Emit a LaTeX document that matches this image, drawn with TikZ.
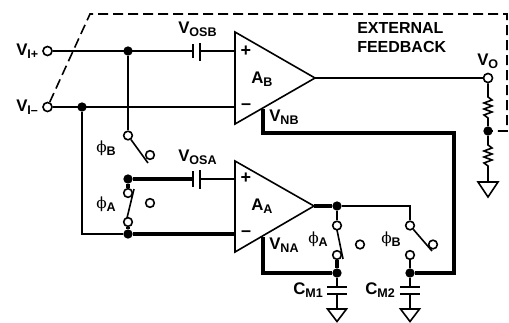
\documentclass[tikz,border=0pt]{standalone}
\usepackage{fontspec}
\setmainfont{Liberation Sans}[BoldFont={Liberation Sans Bold}]
\newfontfamily\phifont{DejaVu Serif}
\newcommand{\vlab}[2]{{\fontsize{12.6pt}{12.6pt}\selectfont\bfseries #1\raisebox{-2.6pt}{\fontsize{9.4pt}{9.4pt}\selectfont #2}}}
\newcommand{\philab}[1]{{\fontsize{11.5pt}{11.5pt}\selectfont\phifont\mdseries ϕ\rmfamily\bfseries\raisebox{-2.6pt}{\fontsize{9.4pt}{9.4pt}\selectfont #1}}}
\tikzset{
  wire/.style={line width=1.2pt},
  thick wire/.style={line width=2.4pt},
  term/.style={circle,draw,fill=white,line width=1.2pt,minimum size=6.8pt,inner sep=0pt},
  swt/.style={term,minimum size=6.5pt},
  dotn/.style={circle,fill=black,minimum size=7pt,inner sep=0pt},
  amp/.style={line width=1.2pt,line join=miter},
  fb/.style={line width=1.2pt,dash pattern=on 7.5pt off 3.75pt},
  lab/.style={inner sep=0pt,anchor=base west},
  sign/.style={inner sep=0pt,font=\fontsize{13.5pt}{13.5pt}\selectfont\bfseries},
  bigtxt/.style={lab,font=\fontsize{12pt}{12pt}\selectfont\bfseries}
}
\begin{document}
\begin{tikzpicture}[x=0.75pt,y=-0.75pt]
\useasboundingbox (0,0) rectangle (509,322);
% coordinates
\coordinate (bp) at (235,51);
\coordinate (bm) at (235,107);
\coordinate (bt) at (235,32);
\coordinate (bb) at (235,124);
\coordinate (bo) at (315,78);
\coordinate (ap) at (235,179);
\coordinate (am) at (235,234);
\coordinate (at) at (235,161);
\coordinate (ab) at (235,252);
\coordinate (ao) at (314,206);
\coordinate (fb1) at (90,14);
\coordinate (fb2) at (507,14);
\coordinate (fb3) at (507,131);
\coordinate (vnbtop) at (263,109);
\coordinate (vnb1) at (263,133);
\coordinate (vnb2) at (454,133);
\coordinate (vnb3) at (454,273);
\coordinate (vnatop) at (263,238);
\coordinate (vna1) at (263,273);
\coordinate (c1a) at (193,51);
\coordinate (c1b) at (200,51);
\coordinate (c2a) at (193,179);
\coordinate (c2b) at (200,179);
\coordinate (sa1) at (134,189);
\coordinate (sa2) at (127,218);
\coordinate (sbt) at (148,163);
\coordinate (sb2) at (432,251);
\coordinate (sc1) at (337,230);
\coordinate (sc2) at (343,259);
\coordinate (r1t) at (488,97);
\coordinate (r1b) at (488,118);
\coordinate (r2t) at (488,145);
\coordinate (r2b) at (488,166);
\coordinate (g0) at (488,182);
\coordinate (cm1a) at (337,287);
\coordinate (cm1b) at (337,294);
\coordinate (g1) at (337,309);
\coordinate (cm2a) at (410,287);
\coordinate (cm2b) at (410,294);
\coordinate (g2) at (410,309);
% dashed feedback
\node[term] (vip) at (47.5,51) {};
\node[term] (vim) at (47.5,107) {};
\node[term] (vo) at (488,78) {};
\draw[fb] (vim) -- (fb1) -- (fb2) -- (fb3) -- (488,131);
% nodes
\node[dotn] (n1) at (128,51) {};
\node[dotn] (n2) at (82,107) {};
\node[dotn] (n3) at (128,179) {};
\node[dotn] (n4) at (128,234) {};
\node[dotn] (n5) at (337,206) {};
\node[dotn] (n6) at (337,273) {};
\node[dotn] (n7) at (410,273) {};
\node[dotn] (n8) at (488,131) {};
\node[swt] (s1) at (128,135.5) {};
\node[swt] (s3) at (128,193) {};
\node[swt] (s4) at (128,222) {};
\node[swt] (s5) at (150,203) {};
\node[swt] (s6) at (337,225.5) {};
\node[swt] (s8) at (360,244.5) {};
\node[swt] (s9) at (410,225.5) {};
\node[swt] (s11) at (410,255) {};
% thin wires
\draw[wire] (vip) -- (c1a);
\draw[wire] (c1b) -- (bp);
\draw[wire] (vim) -- (bm);
\draw[wire] (n1) -- (s1);
\draw[wire] (s1) -- (sbt);
\draw[wire] (n2) |- (n4);
\draw[wire] (c2b) -- (ap);
\draw[wire] (sa1) -- (sa2);
\draw[wire] (bo) -- (vo);
\draw[wire] (n5) -| (s9);
\draw[wire] (n5) -- (s6);
\draw[wire] (s9) -- (sb2);
\draw[wire] (s11) -- (n7);
% thick wires
\draw[thick wire] (n3) -- (c2a);
\draw[thick wire] (n4) -- (am);
\draw[thick wire] (n3) -- (s3);
\draw[thick wire] (s4) -- (n4);
\draw[thick wire] (ao) -- (n5);
\draw[thick wire,line join=miter] (vnbtop) -- (vnb1) -- (vnb2) -- (vnb3) -- (n7);
\draw[thick wire,line join=miter] (vnatop) -- (vna1) -- (n6);
% switch contacts lying over the arms
\node[swt] (s2) at (150,155) {};
\node[swt] (s10) at (433,244.5) {};
\node[swt] (s7) at (337,255) {};
\draw[thick wire] (s7) -- (n6);
\draw[wire] (sc1) -- (sc2);
% capacitors
\draw[wire] (193,44) -- (193,58);
\draw[line width=1.6pt] (200,43) -- (200,61);
\draw[wire] (193,171) -- (193,187);
\draw[line width=1.6pt] (200,170) -- (200,189);
\draw[line width=1.6pt] (327,287) -- (347,287);
\draw[line width=1.6pt] (327,294) -- (347,294);
\draw[line width=1.6pt] (400,287) -- (420,287);
\draw[line width=1.6pt] (400,294) -- (420,294);
\draw[wire] (n6) -- (cm1a);
\draw[wire] (cm1b) -- (g1);
\draw[wire] (n7) -- (cm2a);
\draw[wire] (cm2b) -- (g2);
% grounds
\draw[amp] (327.5,309) -- (346.5,309) -- (337,321.5) -- cycle;
\draw[amp] (400.5,309) -- (419.5,309) -- (410,321.5) -- cycle;
\draw[amp] (478,182) -- (498,182) -- (488,197) -- cycle;
% resistors
\draw[wire] (vo) -- (r1t) -- ++(4,3) -- ++(-8,3) -- ++(8,3) -- ++(-8,3) -- ++(8,3) -- ++(-8,3) -- (r1b) -- (n8);
\draw[wire] (n8) -- (r2t) -- ++(4,3) -- ++(-8,3) -- ++(8,3) -- ++(-8,3) -- ++(8,3) -- ++(-8,3) -- (r2b) -- (g0);
% amplifiers
\draw[amp,fill=white] (bt) -- (bo) -- (bb) -- cycle;
\draw[amp,fill=white] (at) -- (ao) -- (ab) -- cycle;
\draw[thick wire] (263,109) -- (263,120);
\draw[thick wire] (263,237) -- (263,245);
% signs
\node[sign] (pb) at (246,51) {+};
\node[sign] (mb) at (246,106.5) {–};
\node[sign] (pa) at (246,178) {+};
\node[sign] (ma) at (246,233.5) {–};
% labels
\node[lab] (lvip) at (16,55) {\vlab{V}{I+}};
\node[lab] (lvim) at (16,111) {\vlab{V}{I–}};
\node[lab] (lvosb) at (178,33) {\vlab{V}{OSB}};
\node[lab] (lvosa) at (178,161) {\vlab{V}{OSA}};
\node[lab] (lab) at (251,83) {\vlab{A}{B}};
\node[lab] (laa) at (251,210) {\vlab{A}{A}};
\node[lab] (lvo) at (477,65) {\vlab{V}{O}};
\node[lab] (lvnb) at (269,121.5) {\vlab{V}{NB}};
\node[lab] (lvna) at (269,249) {\vlab{V}{NA}};
\node[lab] (lpb) at (96,152) {\philab{B}};
\node[lab] (lpa) at (96,208) {\philab{A}};
\node[lab] (lpa2) at (308,243) {\philab{A}};
\node[lab] (lpb2) at (381,243) {\philab{B}};
\node[lab] (lcm1) at (293,294) {\vlab{C}{M1}};
\node[lab] (lcm2) at (365,294) {\vlab{C}{M2}};
\node[bigtxt] (ext1) at (357,33) {EXTERNAL};
\node[bigtxt] (ext2) at (357,52) {FEEDBACK};
\end{tikzpicture}
\end{document}
